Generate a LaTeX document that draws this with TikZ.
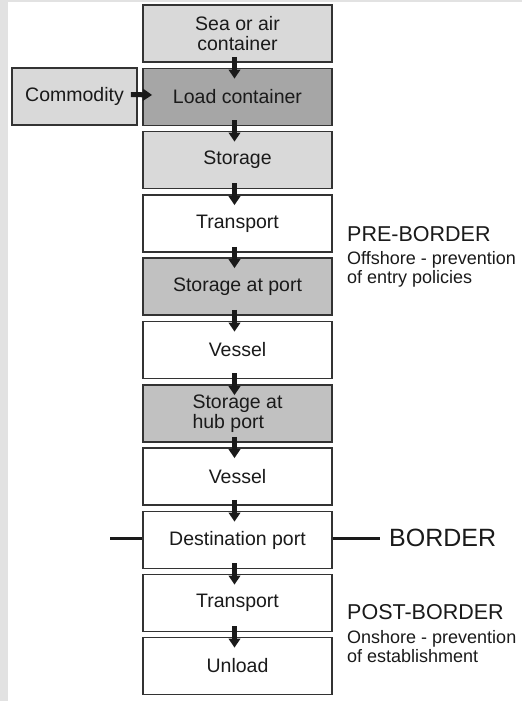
\documentclass[tikz,border=0pt]{standalone}
\usepackage{fontspec}
\setmainfont{Liberation Sans}
\usetikzlibrary{arrows.meta}
\definecolor{framegray}{HTML}{E2E2E2}
\definecolor{lightbox}{HTML}{D9D9D9}
\definecolor{darkbox}{HTML}{A6A6A6}
\definecolor{midbox}{HTML}{C1C1C1}
\definecolor{edgecol}{HTML}{333333}
\definecolor{txtcol}{HTML}{1A1A1A}
\tikzset{
  box/.style={draw=edgecol, line width=1.8pt, minimum width=189pt, minimum height=57pt, inner sep=0pt, text=txtcol, font=\fontsize{19.5}{20}\selectfont, align=center},
  sidebox/.style={box, minimum width=125pt},
  arr/.style={line width=5pt, draw=txtcol, -{Triangle[width=11.5pt,length=9pt]}},
  bline/.style={line width=3pt, draw=txtcol},
  bigtxt/.style={anchor=base west, inner sep=0pt, text=txtcol, font=\fontsize{21.5}{21}\selectfont},
  smalltxt/.style={anchor=base west, inner sep=0pt, text=txtcol, font=\fontsize{18}{18}\selectfont},
}
\begin{document}
\begin{tikzpicture}[x=1pt,y=-1pt]
\useasboundingbox (0,0) rectangle (522,701);
\fill[framegray] (0,0) rectangle (522,701);
\fill[white] (8,2.5) rectangle (522,701);

\node[box, fill=lightbox] (b1) at (237.5,33.5) {Sea or air\\container};
\node[box, fill=darkbox] (b2) at (237.5,97) {Load container};
\node[sidebox, fill=lightbox] (com) at (74.5,96.5) {Commodity};
\node[box, fill=lightbox] (b3) at (237.5,160) {Storage};
\node[box, fill=white] (b4) at (237.5,223.5) {Transport};
\node[box, fill=midbox] (b5) at (237.5,286.5) {Storage at port};
\node[box, fill=white] (b6) at (237.5,350) {Vessel};
\node[box, fill=midbox, align=left] (b7) at (237.5,413.5) {Storage at\\hub port};
\node[box, fill=white] (b8) at (237.5,476.5) {Vessel};
\node[box, fill=white] (b9) at (237.5,540) {Destination port};
\node[box, fill=white] (b10) at (237.5,603) {Transport};
\node[box, fill=white] (b11) at (237.5,666) {Unload};

\foreach \a/\b in {b1/b2,b2/b3,b3/b4,b4/b5,b5/b6,b6/b7,b7/b8,b8/b9,b9/b10,b10/b11}{
  \draw[arr] ([xshift=-3pt,yshift=6pt]\a.south) -- ([xshift=-3pt,yshift=-11pt]\b.north);
}
\draw[arr] ([xshift=-7pt,yshift=2pt]com.east) -- ([xshift=10pt,yshift=2pt]b2.west);

\node[anchor=west, inner sep=0pt, text=txtcol, font=\fontsize{25}{25}\selectfont] (border) at (389,538) {BORDER};
\coordinate (bl) at (110,538);
\draw[bline] ([yshift=2pt]b9.west) -- (bl);
\draw[bline] ([yshift=2pt]b9.east) -- ([xshift=-9pt]border.west);

\node[bigtxt] (pre) at (347,241) {PRE-BORDER};
\node[smalltxt] (pre1) at (347,264) {Offshore - prevention};
\node[smalltxt] (pre2) at (347,283) {of entry policies};

\node[bigtxt] (post) at (347,619) {POST-BORDER};
\node[smalltxt] (post1) at (347,643) {Onshore - prevention};
\node[smalltxt] (post2) at (347,662) {of establishment};
\end{tikzpicture}
\end{document}
